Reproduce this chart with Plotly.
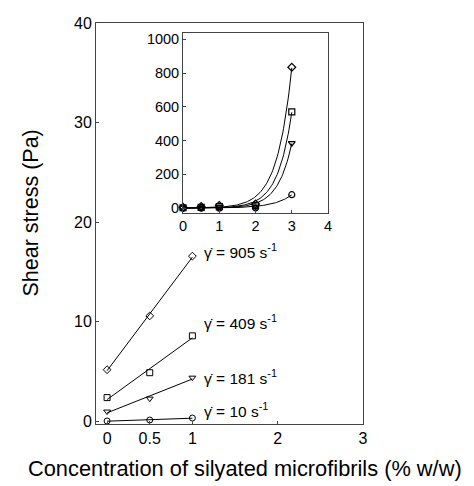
import numpy as np
import plotly.graph_objects as go

# Main panel data (shear stress, Pa) vs concentration (% w/w)
conc_main = [0, 0.5, 1]
s905 = [5.2, 10.6, 16.6]
s409 = [2.4, 4.9, 8.6]
s181 = [1.0, 2.3, 4.4]
s10 = [0.05, 0.15, 0.35]

# Inset data
conc_inset = [0, 0.5, 1, 2, 3]
i905 = [5.2, 10.6, 16.6, 25, 835]
i409 = [2.4, 4.9, 8.6, 15, 570]
i181 = [1.0, 2.3, 4.4, 8, 385]
i10 = [0.05, 0.15, 0.35, 2, 80]

labels = ["905", "409", "181", "10"]
label_y = [17.1, 10.0, 4.5, 1.2]
symbols = ["diamond-open", "square-open", "triangle-down-open", "circle-open"]
curve_k = [2.5, 2.6, 2.6, 2.0]  # growth-rate shape of the fitted inset curves

main_series = [s905, s409, s181, s10]
inset_series = [i905, i409, i181, i10]

FONT = "Liberation Sans, Arial"
fig = go.Figure()

xm = np.array(conc_main, dtype=float)
for ys, sym in zip(main_series, symbols):
    c = np.polyfit(xm, ys, 1)
    xl = np.array([xm.min(), xm.max()])
    fig.add_trace(go.Scatter(x=xl, y=np.polyval(c, xl), mode="lines",
                             line=dict(color="black", width=1), showlegend=False,
                             hoverinfo="skip"))
    fig.add_trace(go.Scatter(x=conc_main, y=ys, mode="markers",
                             marker=dict(symbol=sym, size=6, color="black",
                                         line=dict(color="black", width=1)),
                             showlegend=False, cliponaxis=False))

xi = np.array(conc_inset, dtype=float)
for ys, sym, k in zip(inset_series, symbols, curve_k):
    y = np.array(ys, dtype=float)
    e = np.exp(k * xi)
    A = (y * e).sum() / (e * e).sum()
    xc = np.linspace(0, 3, 121)
    fig.add_trace(go.Scatter(x=xc, y=A * np.exp(k * xc), mode="lines",
                             line=dict(color="black", width=1), showlegend=False,
                             xaxis="x2", yaxis="y2", hoverinfo="skip"))
    fig.add_trace(go.Scatter(x=conc_inset, y=ys, mode="markers",
                             marker=dict(symbol=sym, size=6, color="black",
                                         line=dict(color="black", width=1.2)),
                             showlegend=False, xaxis="x2", yaxis="y2", cliponaxis=False))

for lab, ly in zip(labels, label_y):
    fig.add_annotation(x=1.11, y=ly, xref="x", yref="y", xanchor="left", yanchor="middle",
                       text="γ̇ = " + lab + " s<sup>-1</sup>", showarrow=False,
                       font=dict(size=15.5, color="black", family=FONT))

fig.add_annotation(x=0.5, y=0, xref="paper", yref="paper", xanchor="center", yanchor="middle",
                   yshift=-44, xshift=15,
                   text="Concentration of silyated microfibrils (% w/w)", showarrow=False,
                   font=dict(size=21.8, color="black", family=FONT))
fig.add_annotation(x=0, y=0.5, xref="paper", yref="paper", xanchor="center", yanchor="middle",
                   xshift=-66, yshift=10, textangle=-90,
                   text="Shear stress (Pa)", showarrow=False,
                   font=dict(size=21.5, color="black", family=FONT))

axis_common = dict(showline=True, linecolor="#444", linewidth=1, mirror=True,
                   showgrid=False, zeroline=False, ticks="inside", ticklen=3,
                   tickcolor="#444", ticklabeloverflow="allow")
main_font = dict(size=16, color="black", family=FONT)
inset_font = dict(size=14.5, color="black", family=FONT)

fig.update_layout(
    width=466, height=478,
    margin=dict(l=88, r=111, t=7, b=62),
    paper_bgcolor="white", plot_bgcolor="white",
    showlegend=False,
    xaxis=dict(range=[-0.13, 3], tickvals=[0, 0.5, 1, 2, 3],
               ticktext=["0", "0.5", "1", "2", "3"], tickfont=main_font, **axis_common),
    yaxis=dict(range=[-0.25, 40], tickvals=[0, 10, 20, 30, 40], tickfont=main_font,
               **axis_common),
    xaxis2=dict(domain=[0.326, 0.869], anchor="y2", range=[0, 4],
                tickvals=[0, 1, 2, 3, 4], tickfont=inset_font, **axis_common),
    yaxis2=dict(domain=[0.526, 0.976], anchor="x2", range=[-29, 1040],
                tickvals=[0, 200, 400, 600, 800, 1000], tickfont=inset_font, **axis_common),
)

fig.write_html("out.html")
